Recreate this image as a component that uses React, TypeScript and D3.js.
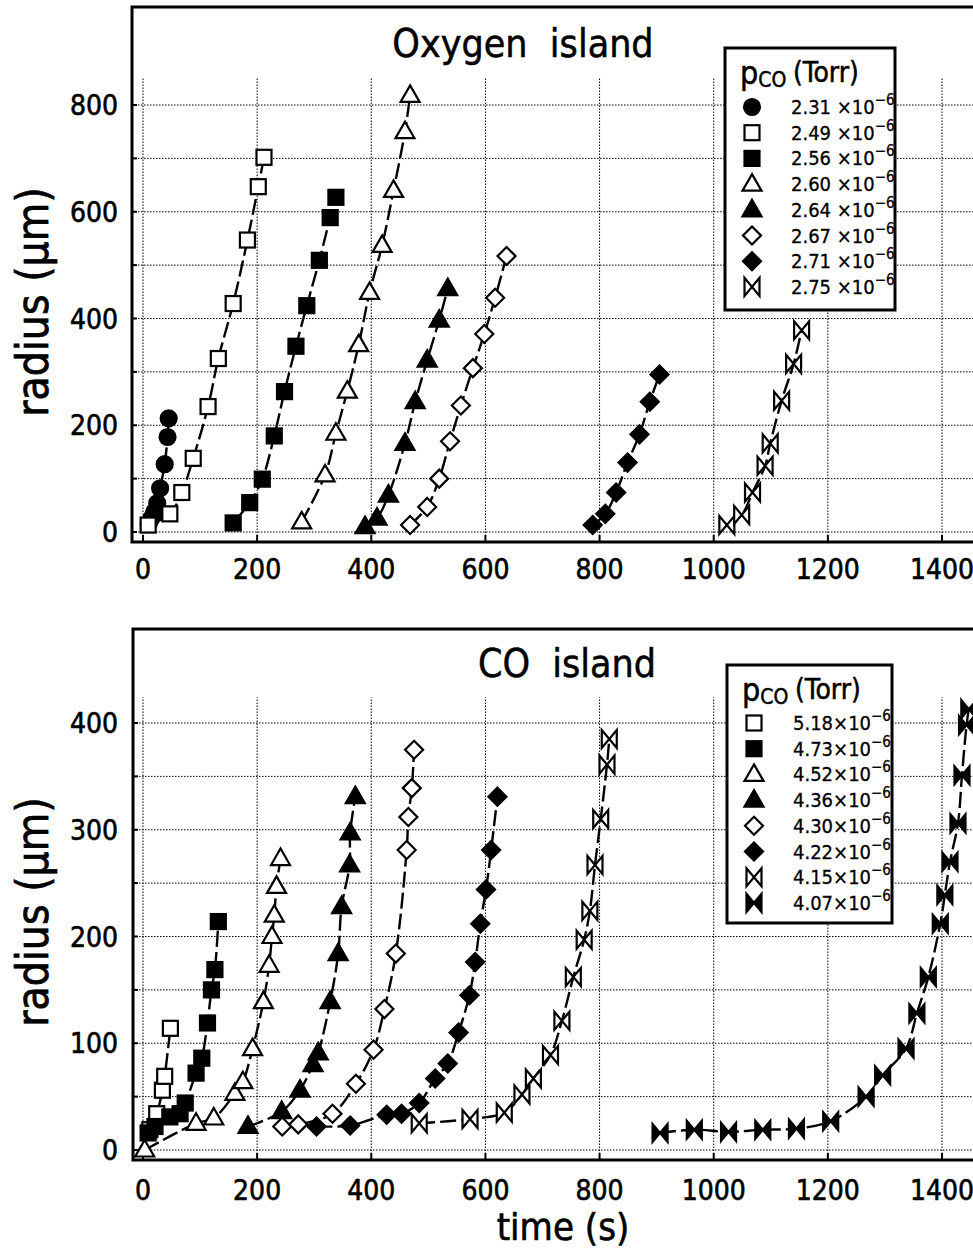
import React, { useEffect, useRef } from "react";
import * as d3 from "d3";

type Pt = [number, number];

// Oxygen island: [time (s), radius (um)] per p_CO (x1e-6 Torr)
const ox231: Pt[] = [[10, 15], [15, 26], [20, 38], [25, 54], [30, 82], [38, 127], [43, 178], [45, 213]];
const ox249: Pt[] = [[9, 13], [47, 34], [68, 74], [88, 138], [114, 235], [132, 325], [158, 428], [183, 547], [202, 647], [212, 702]];
const ox256: Pt[] = [[158, 17], [187, 55], [209, 99], [230, 180], [248, 263], [268, 348], [287, 424], [309, 509], [328, 589], [338, 627]];
const ox260: Pt[] = [[278, 19], [319, 107], [338, 185], [358, 264], [378, 351], [397, 449], [419, 537], [439, 640], [459, 750], [468, 818]];
const ox264: Pt[] = [[389, 10], [410, 26], [430, 69], [459, 166], [477, 244], [498, 322], [519, 397], [534, 456]];
const ox267: Pt[] = [[468, 13], [498, 47], [519, 100], [538, 170], [557, 237], [578, 307], [598, 371], [617, 439], [637, 517]];
const ox271: Pt[] = [[788, 13], [810, 34], [829, 74], [849, 130], [870, 183], [888, 244], [905, 295]];
const ox275: Pt[] = [[1023, 13], [1049, 32], [1068, 74], [1090, 124], [1099, 166], [1119, 246], [1140, 315], [1154, 378]];

// CO island
const co518: Pt[] = [[12, 19], [24, 34], [34, 56], [38, 69], [48, 114]];
const co473: Pt[] = [[9, 16], [21, 22], [47, 31], [65, 34], [74, 44], [93, 72], [103, 86], [113, 119], [120, 150], [126, 169], [132, 214]];
const co452: Pt[] = [[3, 0], [93, 25], [124, 30], [161, 53], [175, 64], [192, 95], [211, 139], [221, 173], [226, 200], [230, 220], [234, 247], [241, 273]];
const co436: Pt[] = [[184, 22], [243, 36], [275, 56], [298, 80], [307, 91], [328, 139], [342, 184], [348, 228], [362, 267], [363, 297], [372, 331]];
const co430: Pt[] = [[244, 22], [272, 24], [332, 34], [373, 62], [404, 94], [423, 132], [443, 184], [462, 281], [465, 312], [471, 339], [475, 375]];
const co422: Pt[] = [[304, 22], [363, 23], [427, 33], [453, 34], [484, 44], [512, 67], [534, 81], [553, 110], [572, 145], [582, 176], [591, 212], [601, 244], [610, 281], [621, 331]];
const co415: Pt[] = [[484, 25], [573, 29], [633, 35], [664, 52], [684, 67], [714, 89], [734, 121], [754, 162], [773, 197], [783, 224], [792, 267], [802, 310], [813, 361], [817, 385]];
const co407: Pt[] = [[906, 16], [966, 19], [1026, 17], [1086, 19], [1145, 20], [1205, 27], [1267, 50], [1296, 70], [1337, 95], [1356, 128], [1376, 162], [1397, 212], [1405, 239], [1414, 270], [1428, 306], [1435, 351], [1443, 398], [1447, 413]];

const oxSeries = [ox231, ox249, ox256, ox260, ox264, ox267, ox271, ox275];
const oxLabels = ["2.31 ×10", "2.49 ×10", "2.56 ×10", "2.60 ×10", "2.64 ×10", "2.67 ×10", "2.71 ×10", "2.75 ×10"];
const oxSymbols = ["circleF", "squareO", "squareF", "triO", "triF", "diaO", "diaF", "bowO"];

const coSeries = [co518, co473, co452, co436, co430, co422, co415, co407];
const coLabels = ["5.18×10", "4.73×10", "4.52×10", "4.36×10", "4.30×10", "4.22×10", "4.15×10", "4.07×10"];
const coSymbols = ["squareO", "squareF", "triO", "triF", "diaO", "diaF", "bowO", "bowF"];

const timeTicks = [0, 200, 400, 600, 800, 1000, 1200, 1400];
const oxRadiusTicks = [0, 200, 400, 600, 800];
const oxGridLines = [0, 100, 200, 300, 400, 500, 600, 700, 800];
const coRadiusTicks = [0, 100, 200, 300, 400];
const coGridLines = [0, 50, 100, 150, 200, 250, 300, 350, 400];

const FONT = "'DejaVu Sans Condensed', 'DejaVu Sans', sans-serif";

function marker(g: any, kind: string, x: number, y: number) {
  const filled = kind.endsWith("F");
  const base = kind.slice(0, -1);
  let el;
  if (base === "circle") {
    el = g.append("circle").attr("cx", x).attr("cy", y).attr("r", 8);
  } else if (base === "square") {
    el = g.append("rect").attr("x", x - 7.5).attr("y", y - 7.5).attr("width", 15).attr("height", 15);
  } else {
    let d = "";
    if (base === "tri") d = `M${x},${y - 10}L${x + 9.5},${y + 6.5}L${x - 9.5},${y + 6.5}Z`;
    if (base === "dia") d = `M${x},${y - 9}L${x + 9},${y}L${x},${y + 9}L${x - 9},${y}Z`;
    if (base === "bow") d = `M${x - 7.5},${y - 9}L${x - 7.5},${y + 9}L${x + 7.5},${y - 9}L${x + 7.5},${y + 9}Z`;
    el = g.append("path").attr("d", d);
  }
  el.attr("fill", filled ? "#000" : "#fff")
    .attr("stroke", "#000")
    .attr("stroke-width", 2.2)
    .attr("stroke-linejoin", "miter");
}

function drawPanel(svg: any, p: any) {
  const x = d3.scaleLinear().domain([0, 1400]).range([143, 942]);
  const y = d3.scaleLinear().domain([0, p.yMax]).range([p.y0, p.yMaxPx]);
  const g = svg.append("g");

  // grid
  g.selectAll(".hgrid").data(p.grid).enter().append("line")
    .attr("x1", p.left).attr("x2", 980)
    .attr("y1", (d: number) => y(d)).attr("y2", (d: number) => y(d))
    .attr("stroke", "#000").attr("stroke-width", 1).attr("stroke-dasharray", "1.5 1.5");
  g.selectAll(".vgrid").data(timeTicks).enter().append("line")
    .attr("x1", (d: number) => x(d)).attr("x2", (d: number) => x(d))
    .attr("y1", p.bottom).attr("y2", y(p.vGridTop))
    .attr("stroke", "#000").attr("stroke-width", 1).attr("stroke-dasharray", "1.5 1.5");

  // ticks
  g.selectAll(".ytick").data(p.grid).enter().append("line")
    .attr("x1", p.left).attr("x2", p.left + 5)
    .attr("y1", (d: number) => y(d)).attr("y2", (d: number) => y(d))
    .attr("stroke", "#000").attr("stroke-width", 2);
  g.selectAll(".xtick").data(timeTicks).enter().append("line")
    .attr("x1", (d: number) => x(d)).attr("x2", (d: number) => x(d))
    .attr("y1", p.bottom).attr("y2", p.bottom - 7)
    .attr("stroke", "#000").attr("stroke-width", 2);

  // frame
  g.append("path")
    .attr("d", `M980,${p.top}H${p.left}V${p.bottom}H980`)
    .attr("fill", "none").attr("stroke", "#000").attr("stroke-width", 3);

  // curves
  const line = d3.line<Pt>()
    .x(d => x(d[0])).y(d => y(d[1]))
    .curve(d3.curveCatmullRom.alpha(0.5));
  p.series.forEach((s: Pt[]) => {
    g.append("path").attr("d", line(s))
      .attr("fill", "none").attr("stroke", "#000").attr("stroke-width", 2.4)
      .attr("stroke-dasharray", "16 5");
  });
  p.series.forEach((s: Pt[], i: number) => {
    s.forEach(d => marker(g, p.symbols[i], x(d[0]), y(d[1])));
  });

  // tick labels
  g.selectAll(".xlab").data(timeTicks).enter().append("text")
    .attr("x", (d: number) => x(d)).attr("y", p.xLabelY)
    .attr("text-anchor", "middle").attr("font-family", FONT).attr("font-size", 28)
    .attr("stroke", "#000").attr("stroke-width", 0.6)
    .text((d: number) => d);
  g.selectAll(".ylab").data(p.ticks).enter().append("text")
    .attr("x", 118).attr("y", (d: number) => y(d)).attr("dy", "0.36em")
    .attr("text-anchor", "end").attr("font-family", FONT).attr("font-size", 28)
    .attr("stroke", "#000").attr("stroke-width", 0.6)
    .text((d: number) => d);

  // y title
  g.append("text")
    .attr("transform", `translate(48,${p.yTitleY}) rotate(-90)`)
    .attr("text-anchor", "middle").attr("font-family", FONT).attr("font-size", 44)
    .attr("stroke", "#000").attr("stroke-width", 0.7)
    .text("radius (µm)");

  // panel title
  g.append("text")
    .attr("x", p.titleX).attr("y", p.titleY)
    .attr("text-anchor", "middle").attr("font-family", FONT).attr("font-size", 39)
    .attr("stroke", "#000").attr("stroke-width", 0.5)
    .style("white-space", "pre")
    .text(p.title);

  // legend
  const lg = g.append("g");
  lg.append("rect")
    .attr("x", p.legX).attr("y", p.legY).attr("width", p.legW).attr("height", p.legH)
    .attr("fill", "#fff").attr("stroke", "#000").attr("stroke-width", 3);
  const head = lg.append("text")
    .attr("x", p.legX + 15).attr("y", p.legY + 36)
    .attr("font-family", FONT).attr("font-size", 32)
    .attr("stroke", "#000").attr("stroke-width", 0.5);
  head.append("tspan").text("p");
  head.append("tspan").attr("font-size", 21).attr("dy", 3).text("CO");
  lg.append("text")
    .attr("x", p.legX + 68).attr("y", p.legY + 34)
    .attr("font-family", FONT).attr("font-size", 28)
    .attr("stroke", "#000").attr("stroke-width", 0.5)
    .text("(Torr)");
  p.labels.forEach((lab: string, i: number) => {
    const cy = p.legRow0 + i * 25.7;
    marker(lg, p.symbols[i], p.legX + 27, cy);
    const t = lg.append("text")
      .attr("x", p.legX + 66).attr("y", cy + 7)
      .attr("font-family", FONT).attr("font-size", 20)
      .attr("stroke", "#000").attr("stroke-width", 0.3)
      .style("white-space", "pre");
    t.append("tspan").text(lab);
    t.append("tspan").attr("font-size", 15).attr("dy", -9).text("−6");
  });
}

export default function App() {
  const ref = useRef<SVGSVGElement>(null);

  useEffect(() => {
    const svg = d3.select(ref.current);
    svg.selectAll("*").remove();

    drawPanel(svg, {
      series: oxSeries, symbols: oxSymbols, labels: oxLabels,
      ticks: oxRadiusTicks, grid: oxGridLines,
      yMax: 800, y0: 532, yMaxPx: 105, vGridTop: 850,
      left: 132, top: 7, bottom: 542,
      xLabelY: 579, yTitleY: 302,
      title: "Oxygen  island", titleX: 523, titleY: 57,
      legX: 725, legY: 48, legW: 170, legH: 262, legRow0: 107,
    });

    drawPanel(svg, {
      series: coSeries, symbols: coSymbols, labels: coLabels,
      ticks: coRadiusTicks, grid: coGridLines,
      yMax: 400, y0: 1150, yMaxPx: 723, vGridTop: 424,
      left: 133, top: 629, bottom: 1160,
      xLabelY: 1200, yTitleY: 912,
      title: "CO  island", titleX: 567, titleY: 677,
      legX: 727, legY: 665, legW: 165, legH: 258, legRow0: 723,
    });

    svg.append("text")
      .attr("x", 563).attr("y", 1240)
      .attr("text-anchor", "middle").attr("font-family", FONT).attr("font-size", 38)
      .attr("stroke", "#000").attr("stroke-width", 0.6)
      .text("time (s)");
  }, []);

  return (
    <svg ref={ref} width={973} height={1255}
      style={{ position: "absolute", left: 0, top: 0, background: "#fff" }} />
  );
}
